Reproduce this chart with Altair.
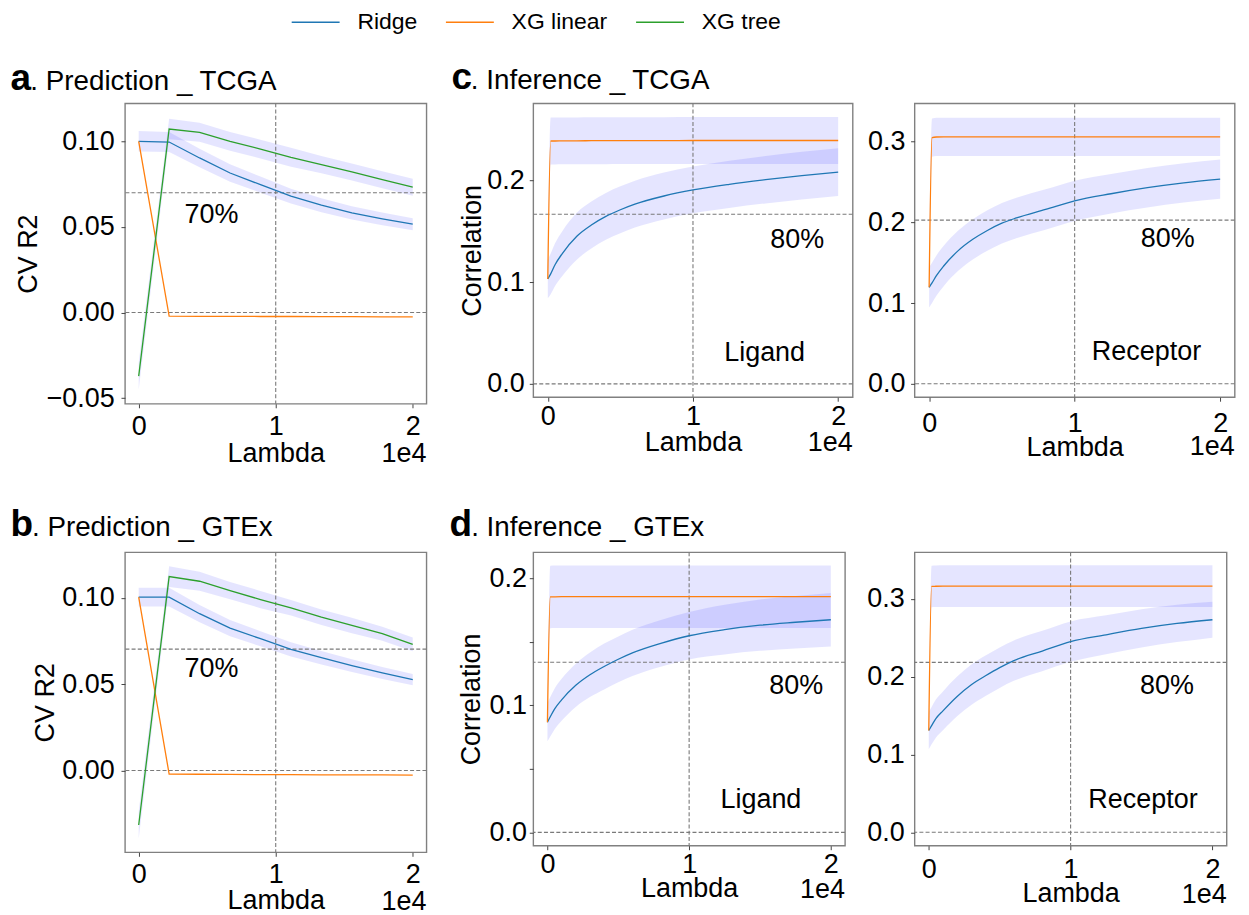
import altair as alt
import pandas as pd

FONT = "Liberation Sans"
SERIES = ["Ridge", "XG linear", "XG tree"]
SERIES_COLORS = ["#1f77b4", "#ff7f0e", "#2ca02c"]
LAMBDA_TICKS = [0, 10000, 20000]
LAMBDA_MARK = [10000]

# ---------- Prediction (panels a, b) ----------
LAMBDA_PRED = [0, 2222, 4444, 6667, 8889, 11111, 13333, 15556, 17778, 20000]

TCGA_PRED_RIDGE = [0.1000, 0.0996, 0.0903, 0.0815, 0.0747, 0.0680, 0.0627, 0.0582, 0.0547, 0.0516]
TCGA_PRED_RIDGE_SD = [0.0060, 0.0058, 0.0054, 0.0051, 0.0047, 0.0043, 0.0041, 0.0039, 0.0037, 0.0035]
TCGA_PRED_LINEAR = [0.1000, -0.0021, -0.0022, -0.0022, -0.0023, -0.0023, -0.0024, -0.0024, -0.0025, -0.0025]
TCGA_PRED_TREE = [-0.0371, 0.1072, 0.1053, 0.1000, 0.0955, 0.0907, 0.0864, 0.0821, 0.0776, 0.0732]
TCGA_PRED_TREE_SD = [0.0080, 0.0060, 0.0055, 0.0055, 0.0055, 0.0055, 0.0050, 0.0050, 0.0050, 0.0050]

GTEX_PRED_RIDGE = [0.1004, 0.1004, 0.0908, 0.0825, 0.0763, 0.0701, 0.0653, 0.0607, 0.0565, 0.0526]
GTEX_PRED_RIDGE_SD = [0.0054, 0.0054, 0.0050, 0.0047, 0.0044, 0.0041, 0.0039, 0.0037, 0.0035, 0.0033]
GTEX_PRED_LINEAR = [0.1004, -0.0021, -0.0022, -0.0023, -0.0024, -0.0024, -0.0025, -0.0026, -0.0026, -0.0027]
GTEX_PRED_TREE = [-0.0316, 0.1123, 0.1096, 0.1042, 0.0990, 0.0942, 0.0888, 0.0840, 0.0792, 0.0730]
GTEX_PRED_TREE_SD = [0.0080, 0.0060, 0.0055, 0.0050, 0.0050, 0.0045, 0.0045, 0.0045, 0.0040, 0.0040]

# ---------- Inference (panels c, d) ----------
LAMBDA_INF = [0, 200, 500, 1000, 2000, 3000, 4000, 5000, 6000, 8000, 10000, 12500, 15000, 17500, 20000]

TCGA_LIG_RIDGE = [0.103, 0.108, 0.117, 0.128, 0.145, 0.156, 0.1645, 0.171, 0.1765, 0.1845, 0.1905, 0.196, 0.2005, 0.2045, 0.208]
TCGA_LIG_RIDGE_SD = [0.019, 0.020, 0.021, 0.022, 0.023, 0.023, 0.023, 0.023, 0.023, 0.023, 0.023, 0.0232, 0.0233, 0.0234, 0.0235]
TCGA_LIG_LINEAR = [0.103, 0.2385, 0.2385, 0.2386, 0.2387, 0.2388, 0.2388, 0.2389, 0.2389, 0.2389, 0.239, 0.239, 0.239, 0.239, 0.239]
TCGA_LIG_LINEAR_SD = [0.0, 0.023, 0.023, 0.023, 0.023, 0.023, 0.023, 0.023, 0.023, 0.023, 0.023, 0.023, 0.023, 0.023, 0.023]

TCGA_REC_RIDGE = [0.1195, 0.125, 0.134, 0.146, 0.165, 0.179, 0.190, 0.199, 0.2055, 0.216, 0.2267, 0.2355, 0.243, 0.249, 0.2535]
TCGA_REC_RIDGE_SD = [0.025, 0.025, 0.025, 0.025, 0.025, 0.025, 0.025, 0.025, 0.025, 0.025, 0.025, 0.0245, 0.0245, 0.0243, 0.0243]
TCGA_REC_LINEAR = [0.1195, 0.305, 0.3058, 0.306, 0.306, 0.306, 0.306, 0.306, 0.306, 0.306, 0.306, 0.306, 0.306, 0.306, 0.306]
TCGA_REC_LINEAR_SD = [0.0, 0.0237, 0.0237, 0.0237, 0.0237, 0.0237, 0.0237, 0.0237, 0.0237, 0.0237, 0.0237, 0.0237, 0.0237, 0.0237, 0.0237]

GTEX_LIG_RIDGE = [0.0867, 0.091, 0.097, 0.1043, 0.1157, 0.124, 0.1305, 0.1362, 0.1412, 0.1487, 0.1547, 0.1595, 0.163, 0.1653, 0.1673]
GTEX_LIG_RIDGE_SD = [0.015, 0.0155, 0.016, 0.0165, 0.017, 0.0175, 0.018, 0.018, 0.0182, 0.0184, 0.0186, 0.0195, 0.0202, 0.0207, 0.021]
GTEX_LIG_LINEAR = [0.0867, 0.1852, 0.1853, 0.1854, 0.1854, 0.1854, 0.1854, 0.1854, 0.1854, 0.1854, 0.1854, 0.1854, 0.1854, 0.1854, 0.1854]
GTEX_LIG_LINEAR_SD = [0.0, 0.0246, 0.0246, 0.0246, 0.0246, 0.0246, 0.0246, 0.0246, 0.0246, 0.0246, 0.0246, 0.0246, 0.0246, 0.0246, 0.0246]

GTEX_REC_RIDGE = [0.1308, 0.137, 0.146, 0.156, 0.1745, 0.1895, 0.201, 0.2115, 0.2205, 0.2328, 0.2449, 0.2537, 0.2619, 0.2683, 0.273]
GTEX_REC_RIDGE_SD = [0.024, 0.024, 0.0245, 0.025, 0.0255, 0.026, 0.026, 0.026, 0.026, 0.026, 0.026, 0.025, 0.0245, 0.024, 0.023]
GTEX_REC_LINEAR = [0.1308, 0.3158, 0.316, 0.3162, 0.3162, 0.3162, 0.3162, 0.3162, 0.3162, 0.3162, 0.3162, 0.3162, 0.3162, 0.3162, 0.3162]
GTEX_REC_LINEAR_SD = [0.0, 0.0267, 0.0267, 0.0267, 0.0267, 0.0267, 0.0267, 0.0267, 0.0267, 0.0267, 0.0267, 0.0267, 0.0267, 0.0267, 0.0267]

# reference (dashed) levels: zero and 70% / 80% thresholds
TCGA_PRED_LEVELS = [0.0, 0.0700]
GTEX_PRED_LEVELS = [0.0, 0.0703]
TCGA_LIG_LEVELS = [0.0, 0.1666]
TCGA_REC_LEVELS = [0.0, 0.2028]
GTEX_LIG_LEVELS = [0.0, 0.1338]
GTEX_REC_LEVELS = [0.0, 0.2183]

# y tick values
PRED_TCGA_YTICKS = [-0.05, 0.0, 0.05, 0.10]
PRED_GTEX_YTICKS = [0.0, 0.05, 0.10]
INF_TCGA_LIG_YTICKS = [0.0, 0.1, 0.2]
INF_TCGA_REC_YTICKS = [0.0, 0.1, 0.2, 0.3]
INF_GTEX_LIG_YTICKS = [0.0, 0.05, 0.1, 0.15, 0.2]
INF_GTEX_REC_YTICKS = [0.0, 0.1, 0.2, 0.3]

# annotation texts (lambda, value, text)
NOTE_A = ([3350], [0.0523], ["70%"])
NOTE_B = ([3350], [0.0541], ["70%"])
NOTE_C_LIG = ([15330, 12150], [0.1339, 0.0228], ["80%", "Ligand"])
NOTE_C_REC = ([14550, 11180], [0.1690, 0.0289], ["80%", "Receptor"])
NOTE_D_LIG = ([15650, 12210], [0.1092, 0.0189], ["80%", "Ligand"])
NOTE_D_REC = ([14890, 11250], [0.1782, 0.0308], ["80%", "Receptor"])

LEGEND = alt.Legend(
    orient="none", legendX=166.0, legendY=-106.3, direction="horizontal", title=None,
    symbolType="stroke", symbolSize=2304, symbolStrokeWidth=1.4,
    labelFont=FONT, labelFontSize=23, labelColor="black",
    labelOffset=16.8, columnPadding=25.5, padding=0,
)


def series_frame(lams, entries):
    rows = []
    for name, vals, sds in entries:
        for i, (lam, v) in enumerate(zip(lams, vals)):
            s = sds[i] if sds is not None else 0.0
            rows.append({"lam": lam, "series": name, "val": v,
                         "lo": v - s, "hi": v + s, "band": sds is not None})
    return pd.DataFrame(rows)


def panel(df, ydomain, yticks, yfmt_expr, width, height, ytitle, levels, notes,
          letter, letter_x, rest, rest_x, title_base,
          x_lab_pad, x_title_pad, lam_base, y_lab_pad, y_title_pad, interp):
    xscale = alt.Scale(domain=[-1000, 21000], nice=False, zero=False)
    yscale = alt.Scale(domain=ydomain, nice=False, zero=False)
    xaxis = alt.Axis(values=LAMBDA_TICKS, labelExpr="format(datum.value / 10000, 'd')",
                     title="Lambda", labelPadding=x_lab_pad, titlePadding=x_title_pad,
                     labelFlush=False, labelOverlap=False)
    if ytitle:
        yaxis = alt.Axis(values=yticks, labelExpr=yfmt_expr, title=ytitle,
                         labelPadding=y_lab_pad, titlePadding=y_title_pad,
                         labelFlush=False, labelOverlap=False)
    else:
        yaxis = alt.Axis(values=yticks, labelExpr=yfmt_expr, title=None,
                         labelPadding=y_lab_pad, labelFlush=False, labelOverlap=False)

    def X(f):
        return alt.X(f, type="quantitative", scale=xscale, axis=xaxis)

    def Y(f):
        return alt.Y(f, type="quantitative", scale=yscale, axis=yaxis)

    base = alt.Chart(df)
    band = base.transform_filter("datum.band").mark_area(
        fill="#0000ff", fillOpacity=0.1, interpolate=interp).encode(
        x=X("lam"), y=Y("lo"), y2=alt.Y2("hi"), detail="series:N")
    hrule = alt.Chart(pd.DataFrame({"lvl": levels})).mark_rule(
        color="#7a7a7a", strokeDash=[4, 2.2], strokeWidth=1.1).encode(y=Y("lvl"))
    vrule = alt.Chart(pd.DataFrame({"lam": LAMBDA_MARK})).mark_rule(
        color="#7a7a7a", strokeDash=[4, 2.2], strokeWidth=1.1).encode(x=X("lam"))
    lines = base.mark_line(strokeWidth=1.3, interpolate=interp).encode(
        x=X("lam"), y=Y("val"),
        color=alt.Color("series:N", scale=alt.Scale(domain=SERIES, range=SERIES_COLORS),
                        legend=LEGEND))
    ndf = pd.DataFrame({"lam": notes[0], "val": notes[1], "label": notes[2]})
    note = alt.Chart(ndf).mark_text(align="left", baseline="alphabetic", font=FONT,
                                    fontSize=27, color="black").encode(
        x=X("lam"), y=Y("val"), text="label:N")
    layers = [band, hrule, vrule, lines, note]
    if letter:
        t1 = alt.Chart(pd.DataFrame({"t": [letter]})).mark_text(
            align="left", baseline="alphabetic", font=FONT, fontSize=37,
            fontWeight="bold", color="black").encode(
            x=alt.value(letter_x), y=alt.value(title_base), text="t:N")
        t2 = alt.Chart(pd.DataFrame({"t": [rest]})).mark_text(
            align="left", baseline="alphabetic", font=FONT, fontSize=27.8,
            color="black").encode(
            x=alt.value(rest_x), y=alt.value(title_base), text="t:N")
        layers += [t1, t2]
    sci = alt.Chart(pd.DataFrame({"t": ["1e4"]})).mark_text(
        align="right", baseline="alphabetic", font=FONT, fontSize=27, color="black").encode(
        x=alt.value(width), y=alt.value(height + lam_base), text="t:N")
    layers.append(sci)
    return alt.layer(*layers).properties(width=width, height=height)


def spacer(w):
    return alt.Chart(pd.DataFrame({"s": [""]})).mark_text().encode(text="s:N").properties(
        width=w, height=1, view=alt.ViewBackground(strokeOpacity=0))


F2 = "format(datum.value, '.2f')"
F1 = "format(datum.value, '.1f')"
F1_SKIP = "(datum.value == 0.05 || datum.value == 0.15) ? '' : format(datum.value, '.1f')"

df_a = series_frame(LAMBDA_PRED, [("Ridge", TCGA_PRED_RIDGE, TCGA_PRED_RIDGE_SD),
                                  ("XG linear", TCGA_PRED_LINEAR, None),
                                  ("XG tree", TCGA_PRED_TREE, TCGA_PRED_TREE_SD)])
df_b = series_frame(LAMBDA_PRED, [("Ridge", GTEX_PRED_RIDGE, GTEX_PRED_RIDGE_SD),
                                  ("XG linear", GTEX_PRED_LINEAR, None),
                                  ("XG tree", GTEX_PRED_TREE, GTEX_PRED_TREE_SD)])
df_cl = series_frame(LAMBDA_INF, [("Ridge", TCGA_LIG_RIDGE, TCGA_LIG_RIDGE_SD),
                                  ("XG linear", TCGA_LIG_LINEAR, TCGA_LIG_LINEAR_SD)])
df_cr = series_frame(LAMBDA_INF, [("Ridge", TCGA_REC_RIDGE, TCGA_REC_RIDGE_SD),
                                  ("XG linear", TCGA_REC_LINEAR, TCGA_REC_LINEAR_SD)])
df_dl = series_frame(LAMBDA_INF, [("Ridge", GTEX_LIG_RIDGE, GTEX_LIG_RIDGE_SD),
                                  ("XG linear", GTEX_LIG_LINEAR, GTEX_LIG_LINEAR_SD)])
df_dr = series_frame(LAMBDA_INF, [("Ridge", GTEX_REC_RIDGE, GTEX_REC_RIDGE_SD),
                                  ("XG linear", GTEX_REC_LINEAR, GTEX_REC_LINEAR_SD)])

pa = panel(df_a, [-0.0533, 0.1222], PRED_TCGA_YTICKS, F2, 302, 301, "CV R2",
           TCGA_PRED_LEVELS, NOTE_A, "a", -114.8, ". Prediction _ TCGA", -94.8, -13.7,
           6, 0.4, 58.7, 6.7, 3.6, "linear")
pb = panel(df_b, [-0.0474, 0.1264], PRED_GTEX_YTICKS, F2, 302, 300.6, "CV R2",
           GTEX_PRED_LEVELS, NOTE_B, "b", -114.8, ". Prediction _ GTEx", -93.2, -16.7,
           5, 0.4, 57.7, 6.7, 2.8, "linear")
pcl = panel(df_cl, [-0.0131, 0.2755], INF_TCGA_LIG_YTICKS, F1, 320, 294.4, "Correlation",
            TCGA_LIG_LEVELS, NOTE_C_LIG, "c", -82.0, ". Inference _ TCGA", -62.5, -14.0,
            2.3, 0, 54.0, 5.0, 0, "monotone")
pcr = panel(df_cr, [-0.0166, 0.3475], INF_TCGA_REC_YTICKS, F1, 320.7, 294.4, None,
            TCGA_REC_LEVELS, NOTE_C_REC, None, 0, None, 0, 0,
            9, -2, 58.3, 5.7, 0, "monotone")
pdl = panel(df_dl, [-0.0105, 0.2204], INF_GTEX_LIG_YTICKS, F1_SKIP, 312.3, 294, "Correlation",
            GTEX_LIG_LEVELS, NOTE_D_LIG, "d", -83.8, ". Inference _ GTEx", -62.2, -16.7,
            1.6, -1.3, 52.6, 2.7, 3.4, "monotone")
pdr = panel(df_dr, [-0.0172, 0.3597], INF_GTEX_REC_YTICKS, F1, 312.6, 294, None,
            GTEX_REC_LEVELS, NOTE_D_REC, None, 0, None, 0, 0,
            6.6, -1.3, 57.6, 6.4, 0, "monotone")

chart = alt.concat(
    pa, spacer(106.3), pcl, spacer(61.7), pcr,
    pb, spacer(106.3), pdl, spacer(61.7), pdr,
    columns=5, spacing=alt.RowColnumber(row=148.7, column=0), bounds="flush",
).resolve_scale(
    x="independent", y="independent"
).properties(
    padding={"left": 1.2, "top": -12.3, "right": 5, "bottom": 5}
).configure_view(
    stroke="#808080", strokeWidth=1.4
).configure_axis(
    labelFont=FONT, titleFont=FONT, labelFontSize=27, titleFontSize=27,
    labelColor="black", titleColor="black", titleFontWeight="normal",
    tickColor="#444444", tickSize=4, tickWidth=1, domain=False, grid=False,
)

chart.save("out.html", embed_options={"renderer": "svg", "actions": False})
